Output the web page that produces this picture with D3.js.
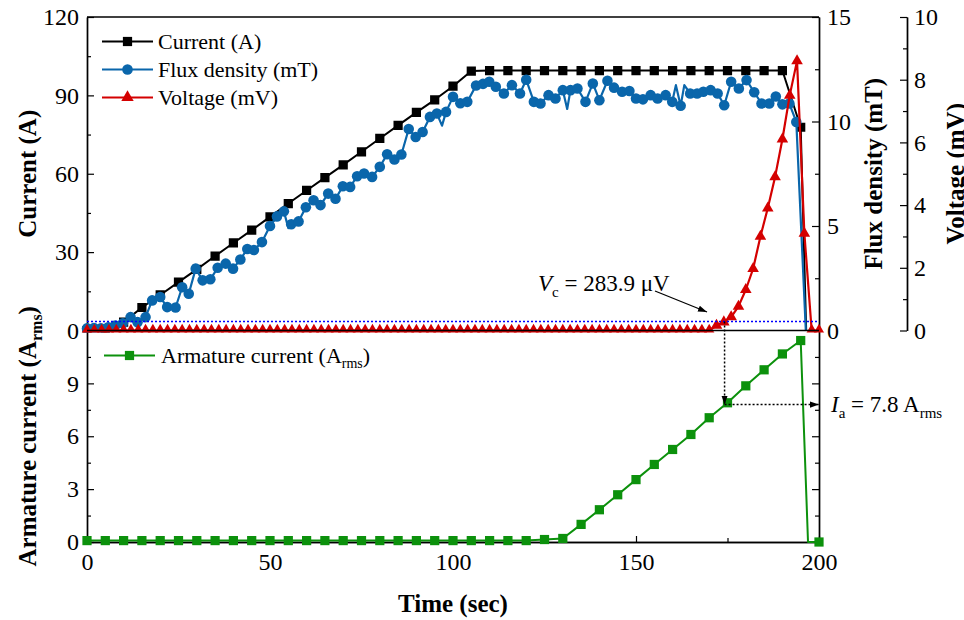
<!DOCTYPE html>
<html>
<head>
<meta charset="utf-8">
<script src="https://cdn.jsdelivr.net/npm/d3@7"></script>
<style>
  html, body { margin: 0; padding: 0; background: #fff; }
  svg { display: block; font-family: "Liberation Serif", "Times New Roman", serif; }
</style>
</head>
<body>
<svg id="chart" width="964" height="620"></svg>
<script>
// ---- Measured series -------------------------------------------------------
// Magnet current (A), sampled every 5 s
const currentTime = [0,5,10,15,20,25,30,35,40,45,50,55,60,65,70,75,80,85,90,95,
  100,105,110,115,120,125,130,135,140,145,150,155,160,165,170,175,180,185,190,195];
const currentA = [0,0,3.2,8.8,13.6,18.5,23.4,28.5,33.5,38.4,43.5,48.6,53.6,58.5,63.4,68.4,73.5,78.5,83.5,88.3,
  93.5,99.3,99.5,99.5,99.5,99.5,99.5,99.5,99.5,99.5,99.5,99.5,99.5,99.5,99.5,99.5,99.5,99.5,99.5,77.8];
// point where the supply trips (line only, no marker)
const currentTrip = [196.5, 0];

// Flux density (mT)
const fluxTime = [0,1.9,3.8,5.8,7.7,9.8,11.9,13.8,16.0,17.8,20.0,21.9,24.2,26.0,27.8,29.7,31.6,33.7,35.7,37.9,
  39.9,41.9,43.8,45.6,47.8,50.0,51.9,53.8,55.8,57.8,59.8,61.9,63.8,65.9,67.9,69.9,71.9,73.8,75.7,77.9,
  80.0,82.0,84.0,85.9,87.9,89.8,91.7,93.7,95.6,98.1,100.0,102.0,103.9,106.3,108.2,109.9,111.7,113.9,116.1,118.3,
  120.0,122.1,123.9,126.1,128.0,130.0,132.1,134.0,136.2,138.2,140.0,142.2,144.0,146.2,148.2,150.0,151.9,154.0,155.9,158.1,
  159.9,162.2,164.8,166.7,168.4,170.4,172.3,174.1,176.0,178.1,180.2,182.3,184.3,186.4,188.2,190.0,191.9,193.8];
const fluxMT = [0.1,0.12,0.1,0.15,0.24,0.35,0.64,0.4,0.64,1.44,1.6,1.12,1.1,2.07,1.76,2.96,2.4,2.45,3.0,3.2,
  2.96,3.4,3.9,3.85,4.23,5.0,5.46,5.7,5.08,5.22,5.9,6.23,6.0,6.55,6.3,6.9,6.87,7.38,7.51,7.35,
  7.83,8.43,8.18,8.42,9.64,9.26,9.5,10.22,10.38,10.46,11.18,10.87,10.94,11.72,11.8,11.9,11.66,11.34,11.74,11.34,
  12.0,10.94,10.86,11.26,11.1,11.5,11.5,11.58,10.94,11.82,11.02,11.95,11.62,11.42,11.46,11.1,11.06,11.26,11.1,11.26,
  10.94,10.75,11.34,11.34,11.42,11.5,11.34,10.78,11.9,11.58,11.98,11.4,10.86,10.86,11.2,10.82,10.86,9.98];
// short excursions between markers (line only)
const fluxSpikeTime = [55.0, 97.0, 131.2, 160.9, 163.2];
const fluxSpikeMT   = [4.9, 9.8, 10.6, 11.74, 11.74];
const fluxTrip = [196.4, 0];

// Sample voltage (mV), sampled every 2 s
const voltTime = [0,2,4,6,8,10,12,14,16,18,20,22,24,26,28,30,32,34,36,38,40,42,44,46,48,50,
  52,54,56,58,60,62,64,66,68,70,72,74,76,78,80,82,84,86,88,90,92,94,96,98,100,
  102,104,106,108,110,112,114,116,118,120,122,124,126,128,130,132,134,136,138,140,142,144,146,148,150,
  152,154,156,158,160,162,164,166,168,170,172,174,176,178,180,182,184,186,188,190,192,194,196,198,200];
const voltMV = [0,0,0,0,0,0,0,0,0,0,0,0,0,0,0,0,0,0,0,0,0,0,0,0,0,0,
  0,0,0,0,0,0,0,0,0,0,0,0,0,0,0,0,0,0,0,0,0,0,0,0,0,
  0,0,0,0,0,0,0,0,0,0,0,0,0,0,0,0,0,0,0,0,0,0,0,0,0,
  0,0,0,0,0,0,0,0,0,0,0.16,0.27,0.43,0.77,1.3,1.97,3.0,3.9,4.9,6.1,7.5,8.6,3.1,0,0];

// Armature current (A rms), sampled every 5 s
const armTime = [0,5,10,15,20,25,30,35,40,45,50,55,60,65,70,75,80,85,90,95,
  100,105,110,115,120,125,130,135,140,145,150,155,160,165,170,175,180,185,190,195,200];
const armArms = [0.08,0.08,0.08,0.08,0.08,0.08,0.08,0.08,0.08,0.08,0.08,0.08,0.08,0.08,0.08,0.08,0.08,0.08,0.08,0.08,
  0.08,0.08,0.08,0.08,0.08,0.14,0.2,1.0,1.83,2.68,3.54,4.4,5.25,6.1,7.05,7.9,8.86,9.77,10.67,11.43,0];
const armTrip = [197, 0];

// Critical voltage criterion and resulting armature current
const vcMV = 0.2839;
const vcTime = 174.2;
const iaArms = 7.8;

// Tick values
const xMajor = [0,50,100,150,200], xMinor = [25,75,125,175];
const curMajor = [0,30,60,90,120], curMinor = [15,45,75,105];
const fluxMajor = [0,5,10,15], fluxMinor = [2.5,7.5,12.5];
const voltMajor = [0,2,4,6,8,10], voltMinor = [1,3,5,7,9];
const armMajor = [0,3,6,9], armMinor = [1.5,4.5,7.5,10.5];

// ---- Layout ----------------------------------------------------------------
const C = { cur: "#000000", flux: "#0a66ab", volt: "#d40000", arm: "#0c910c", vc: "#0000ff" };
const L = 87, R = 819, T = 17, MID = 330.5, B = 542, VAX = 907;

const svg = d3.select("#chart");
svg.append("rect").attr("width", 964).attr("height", 620).attr("fill", "#fff");

const x = d3.scaleLinear([0, 200], [L, R]);
const yCur = d3.scaleLinear([0, 120], [MID, T]);
const yFlux = d3.scaleLinear([0, 15], [MID, T]);
const yVolt = d3.scaleLinear([0, 10], [MID, T]);
const yArm = d3.scaleLinear([0, 12], [B, MID]);

const zip = (a, b) => a.map((v, i) => [v, b[i]]);

const defs = svg.append("defs");
defs.append("clipPath").attr("id", "clipTop")
  .append("rect").attr("x", L - 10).attr("y", T - 10).attr("width", R - L + 20).attr("height", MID - T + 12);
defs.append("marker").attr("id", "arrow")
  .attr("viewBox", "0 0 10 10").attr("refX", 10).attr("refY", 5)
  .attr("markerWidth", 9).attr("markerHeight", 9).attr("markerUnits", "userSpaceOnUse")
  .attr("orient", "auto")
  .append("path").attr("d", "M0,1.5 L10,5 L0,8.5 Z").attr("fill", "#000");

// ---- Axes ------------------------------------------------------------------
function styleAxis(g, fontSize) {
  g.selectAll(".domain").attr("stroke", "#000").attr("stroke-width", 1.4);
  g.selectAll(".tick line").attr("stroke", "#000").attr("stroke-width", 1.2);
  g.selectAll(".tick text").attr("font-size", fontSize).attr("fill", "#000")
    .attr("font-family", "Liberation Serif, Times New Roman, serif");
  g.attr("font-family", null);
}
function addAxis(axis, tx, ty, fontSize = 24) {
  const g = svg.append("g").attr("transform", `translate(${tx},${ty})`).call(axis);
  styleAxis(g, fontSize);
  return g;
}

// bottom time axis
addAxis(d3.axisBottom(x).tickValues(xMajor).tickSize(-6).tickSizeOuter(0).tickPadding(11).tickFormat(d3.format("d")), 0, B);
addAxis(d3.axisBottom(x).tickValues(xMinor).tickSize(-4).tickSizeOuter(0).tickFormat(""), 0, B);

// top panel frame
svg.append("line").attr("x1", L).attr("x2", R).attr("y1", T).attr("y2", T).attr("stroke", "#000").attr("stroke-width", 1.4);

// current axis
addAxis(d3.axisLeft(yCur).tickValues(curMajor).tickSize(-7).tickSizeOuter(0).tickPadding(8).tickFormat(d3.format("d")), L, 0);
addAxis(d3.axisLeft(yCur).tickValues(curMinor).tickSize(-4).tickSizeOuter(0).tickFormat(""), L, 0);
// flux axis
addAxis(d3.axisRight(yFlux).tickValues(fluxMajor).tickSize(-7).tickSizeOuter(0).tickPadding(8).tickFormat(d3.format("d")), R, 0);
addAxis(d3.axisRight(yFlux).tickValues(fluxMinor).tickSize(-4).tickSizeOuter(0).tickFormat(""), R, 0);
// voltage axis (offset)
addAxis(d3.axisRight(yVolt).tickValues(voltMajor).tickSize(-7).tickSizeOuter(0).tickPadding(7).tickFormat(d3.format("d")), VAX, 0);
addAxis(d3.axisRight(yVolt).tickValues(voltMinor).tickSize(-4).tickSizeOuter(0).tickFormat(""), VAX, 0);
// armature axis
addAxis(d3.axisLeft(yArm).tickValues(armMajor).tickSize(-7).tickSizeOuter(0).tickPadding(8).tickFormat(d3.format("d")), L, 0);
addAxis(d3.axisLeft(yArm).tickValues(armMinor).tickSize(-4).tickSizeOuter(0).tickFormat(""), L, 0);
addAxis(d3.axisRight(yArm).tickValues(armMajor.slice(1)).tickSize(-7).tickSizeOuter(0).tickFormat(""), R, 0);
addAxis(d3.axisRight(yArm).tickValues(armMinor).tickSize(-4).tickSizeOuter(0).tickFormat(""), R, 0);

// ---- Series ----------------------------------------------------------------
const topPanel = svg.append("g").attr("clip-path", "url(#clipTop)");

function drawLine(g, pts, y, color, width) {
  g.append("path").datum(pts)
    .attr("d", d3.line().x(d => x(d[0])).y(d => y(d[1])))
    .attr("fill", "none").attr("stroke", color).attr("stroke-width", width).attr("stroke-linejoin", "round");
}
function drawSymbols(g, pts, y, type, size, color) {
  g.selectAll(null).data(pts).join("path")
    .attr("transform", d => `translate(${x(d[0])},${y(d[1])})`)
    .attr("d", d3.symbol().type(type).size(size)).attr("fill", color);
}

// current
const curPts = zip(currentTime, currentA);
drawLine(topPanel, curPts.concat([currentTrip]), yCur, C.cur, 2);
drawSymbols(topPanel, curPts, yCur, d3.symbolSquare, 85, C.cur);

// flux density
const fluxPts = zip(fluxTime, fluxMT);
const fluxLinePts = fluxPts.concat(zip(fluxSpikeTime, fluxSpikeMT)).sort((a, b) => a[0] - b[0]).concat([fluxTrip]);
drawLine(topPanel, fluxLinePts, yFlux, C.flux, 2.2);
drawSymbols(topPanel, fluxPts, yFlux, d3.symbolCircle, 88, C.flux);

// voltage
const voltPts = zip(voltTime, voltMV);
drawLine(topPanel, voltPts, yVolt, C.volt, 2.2);
drawSymbols(topPanel, voltPts, yVolt, d3.symbolTriangle, 58, C.volt);

// critical voltage level
svg.append("line").attr("x1", L).attr("x2", R).attr("y1", yVolt(vcMV)).attr("y2", yVolt(vcMV))
  .attr("stroke", C.vc).attr("stroke-width", 1.5).attr("stroke-dasharray", "2,2");

// armature current
const armPts = zip(armTime, armArms);
const armLinePts = armPts.slice(0, -1).concat([armTrip], armPts.slice(-1));
drawLine(svg, armLinePts, yArm, C.arm, 2);
drawSymbols(svg, armPts, yArm, d3.symbolSquare, 85, C.arm);

// panel divider
svg.append("line").attr("x1", L).attr("x2", R).attr("y1", MID).attr("y2", MID).attr("stroke", "#000").attr("stroke-width", 1.4);

// ---- Annotations -----------------------------------------------------------
svg.append("line")
  .attr("x1", x(vcTime)).attr("x2", x(vcTime)).attr("y1", yVolt(vcMV)).attr("y2", yArm(iaArms))
  .attr("stroke", "#000").attr("stroke-width", 1.5).attr("stroke-dasharray", "2,2")
  .attr("marker-end", "url(#arrow)");
svg.append("line")
  .attr("x1", x(vcTime)).attr("x2", R).attr("y1", yArm(iaArms)).attr("y2", yArm(iaArms))
  .attr("stroke", "#000").attr("stroke-width", 1.5).attr("stroke-dasharray", "2,2")
  .attr("marker-end", "url(#arrow)");

// V_c label with leader arrow
const vcLabel = svg.append("text").attr("x", 538).attr("y", 291).attr("font-size", 23).attr("fill", "#000");
vcLabel.append("tspan").attr("font-style", "italic").text("V");
vcLabel.append("tspan").attr("font-size", 15).attr("dy", 6).text("c");
vcLabel.append("tspan").attr("dy", -6).text(` = ${(vcMV * 1000).toFixed(1)} μV`);
svg.append("line").attr("x1", 655).attr("y1", 291).attr("x2", 707).attr("y2", 312)
  .attr("stroke", "#000").attr("stroke-width", 1.3).attr("marker-end", "url(#arrow)");

// I_a label
const iaLabel = svg.append("text").attr("x", 831).attr("y", 412).attr("font-size", 23).attr("fill", "#000");
iaLabel.append("tspan").attr("font-style", "italic").text("I");
iaLabel.append("tspan").attr("font-size", 15).attr("dy", 6).text("a");
iaLabel.append("tspan").attr("dy", -6).text(` = ${iaArms} A`);
iaLabel.append("tspan").attr("font-size", 15).attr("dy", 6).text("rms");

// ---- Legends ---------------------------------------------------------------
const legendTop = [
  { label: "Current (A)", color: C.cur, sym: d3.symbolSquare, size: 85 },
  { label: "Flux density (mT)", color: C.flux, sym: d3.symbolCircle, size: 88 },
  { label: "Voltage (mV)", color: C.volt, sym: d3.symbolTriangle, size: 66 }
];
legendTop.forEach((d, i) => {
  const y0 = 41.5 + i * 28;
  svg.append("line").attr("x1", 102).attr("x2", 153).attr("y1", y0).attr("y2", y0).attr("stroke", d.color).attr("stroke-width", 2);
  svg.append("path").attr("transform", `translate(127.5,${y0})`).attr("d", d3.symbol().type(d.sym).size(d.size)).attr("fill", d.color);
  svg.append("text").attr("x", 158).attr("y", y0 + 7.5).attr("font-size", 22).attr("fill", "#000").text(d.label);
});
{
  const y0 = 355.5;
  svg.append("line").attr("x1", 104).attr("x2", 155).attr("y1", y0).attr("y2", y0).attr("stroke", C.arm).attr("stroke-width", 2);
  svg.append("path").attr("transform", `translate(129.5,${y0})`).attr("d", d3.symbol().type(d3.symbolSquare).size(85)).attr("fill", C.arm);
  const t = svg.append("text").attr("x", 161).attr("y", y0 + 7.5).attr("font-size", 22).attr("fill", "#000");
  t.append("tspan").text("Armature current (A");
  t.append("tspan").attr("font-size", 14).attr("dy", 5).text("rms");
  t.append("tspan").attr("dy", -5).text(")");
}

// ---- Axis titles -----------------------------------------------------------
function vTitle(xp, yp, parts) {
  const t = svg.append("text").attr("transform", `translate(${xp},${yp}) rotate(-90)`)
    .attr("text-anchor", "middle").attr("font-size", 25).attr("font-weight", "bold").attr("fill", "#000");
  parts.forEach(p => {
    const s = t.append("tspan").text(p.text);
    if (p.sub) s.attr("font-size", 16).attr("dy", 6);
    if (p.after) s.attr("dy", -6);
  });
}
vTitle(36, (T + MID) / 2, [{ text: "Current (A)" }]);
vTitle(36, (MID + B) / 2, [{ text: "Armature current (A" }, { text: "rms", sub: true }, { text: ")", after: true }]);
vTitle(882, (T + MID) / 2, [{ text: "Flux density (mT)" }]);
vTitle(964, (T + MID) / 2, [{ text: "Voltage (mV)" }]);

svg.append("text").attr("x", (L + R) / 2).attr("y", 612).attr("text-anchor", "middle")
  .attr("font-size", 25).attr("font-weight", "bold").attr("fill", "#000").text("Time (sec)");
</script>
</body>
</html>
